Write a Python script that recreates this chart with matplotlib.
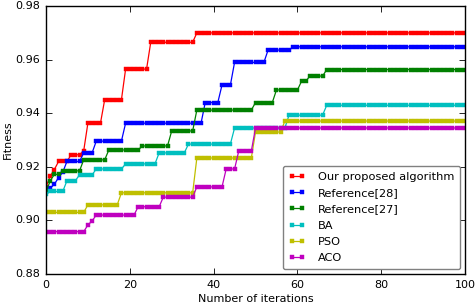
import numpy as np
import matplotlib
matplotlib.use("Agg")
import matplotlib.pyplot as plt

plt.style.use("classic")

n_iter = 101
iterations = np.arange(n_iter)

# Each series: (first iteration of a level, level value)
labels = ["Our proposed algorithm", "Reference[28]", "Reference[27]", "BA", "PSO", "ACO"]
colors = ["r", "b", "g", "c", "y", "m"]

ours_starts = [0, 1, 2, 3, 6, 9, 10, 14, 19, 25, 36]
ours_levels = [0.9125, 0.9165, 0.919, 0.922, 0.9245, 0.926, 0.9363, 0.945, 0.9565, 0.9665, 0.970]

ref28_starts = [0, 2, 3, 4, 5, 9, 12, 19, 38, 42, 45, 53, 59]
ref28_levels = [0.912, 0.9135, 0.916, 0.918, 0.922, 0.9252, 0.9296, 0.9363, 0.944, 0.9505, 0.959, 0.9636, 0.9648]

ref27_starts = [0, 1, 2, 4, 9, 15, 23, 30, 36, 50, 55, 61, 63, 67]
ref27_levels = [0.9107, 0.9147, 0.9172, 0.9185, 0.9226, 0.9263, 0.9278, 0.9334, 0.9412, 0.944, 0.9487, 0.952, 0.9539, 0.9563]

ba_starts = [0, 1, 5, 8, 12, 19, 27, 34, 45, 58, 67]
ba_levels = [0.9098, 0.9108, 0.9148, 0.917, 0.9192, 0.9211, 0.9252, 0.9285, 0.9345, 0.9393, 0.943]

pso_starts = [0, 10, 18, 36, 50, 57]
pso_levels = [0.903, 0.9058, 0.9103, 0.9233, 0.933, 0.9371]

aco_starts = [0, 10, 11, 12, 22, 28, 36, 43, 46, 50]
aco_levels = [0.8958, 0.8983, 0.8998, 0.902, 0.9051, 0.9087, 0.9125, 0.9192, 0.9259, 0.9345]

series_starts = [ours_starts, ref28_starts, ref27_starts, ba_starts, pso_starts, aco_starts]
series_levels = [ours_levels, ref28_levels, ref27_levels, ba_levels, pso_levels, aco_levels]


def expand(starts, levels):
    out = np.empty(n_iter)
    bounds = list(starts) + [n_iter]
    for i, lv in enumerate(levels):
        out[bounds[i]:bounds[i + 1]] = lv
    return out


fig = plt.figure(figsize=(4.76, 3.06), dpi=100)
ax = fig.add_axes([0.0966, 0.1046, 0.8804, 0.8754])

for lab, col, st, lv in zip(labels, colors, series_starts, series_levels):
    ax.plot(iterations, expand(st, lv), color=col, marker="s", markersize=2.2,
            markeredgecolor=col, markeredgewidth=0.3, linewidth=0.9, label=lab)

ax.set_xlim(0, 100)
ax.set_ylim(0.88, 0.98)
ax.set_xticks([0, 20, 40, 60, 80, 100])
ax.set_yticks([0.88, 0.90, 0.92, 0.94, 0.96, 0.98])
ax.yaxis.set_major_formatter(matplotlib.ticker.FormatStrFormatter("%.2f"))
ax.tick_params(labelsize=8, width=0.6, length=4)
ax.set_xlabel("Number of iterations", fontsize=8, labelpad=3)
ax.set_ylabel("Fitness", fontsize=8, labelpad=2)

leg = ax.legend(loc="lower right", fontsize=8.2, numpoints=2, handlelength=1.5,
                handletextpad=1.1, labelspacing=0.55, fancybox=True,
                borderpad=0.5, borderaxespad=0.45)
leg.get_frame().set_edgecolor("0.5")
leg.get_frame().set_linewidth(1.0)

fig.savefig("out.png", dpi=100)
